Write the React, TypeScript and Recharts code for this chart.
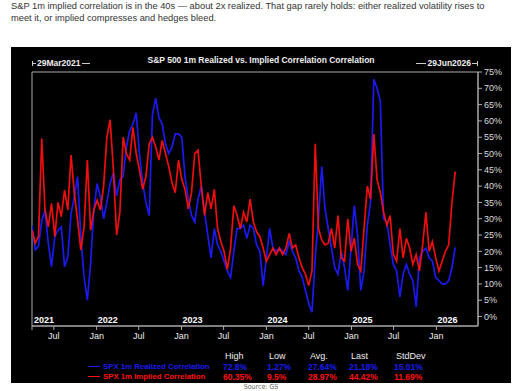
import React from 'react';
import { LineChart, Line, XAxis, YAxis, ReferenceArea } from 'recharts';

// biweekly samples
const dates = [
  '2021-03-29', '2021-04-12', '2021-04-26', '2021-05-10', '2021-05-24', '2021-06-07', '2021-06-21', '2021-07-05', '2021-07-19', '2021-08-02',
  '2021-08-16', '2021-08-30', '2021-09-13', '2021-09-27', '2021-10-11', '2021-10-25', '2021-11-08', '2021-11-22', '2021-12-06', '2021-12-20',
  '2022-01-03', '2022-01-17', '2022-01-31', '2022-02-14', '2022-02-28', '2022-03-14', '2022-03-28', '2022-04-11', '2022-04-25', '2022-05-09',
  '2022-05-23', '2022-06-06', '2022-06-20', '2022-07-04', '2022-07-18', '2022-08-01', '2022-08-15', '2022-08-29', '2022-09-12', '2022-09-26',
  '2022-10-10', '2022-10-24', '2022-11-07', '2022-11-21', '2022-12-05', '2022-12-19',
  '2023-01-02', '2023-01-16', '2023-01-30', '2023-02-13', '2023-02-27', '2023-03-13', '2023-03-27', '2023-04-10', '2023-04-24', '2023-05-08',
  '2023-05-22', '2023-06-05', '2023-06-19', '2023-07-03', '2023-07-17', '2023-07-31', '2023-08-14', '2023-08-28', '2023-09-11', '2023-09-25',
  '2023-10-09', '2023-10-23', '2023-11-06', '2023-11-20', '2023-12-04', '2023-12-18',
  '2024-01-01', '2024-01-15', '2024-01-29', '2024-02-12', '2024-02-26', '2024-03-11', '2024-03-25', '2024-04-08', '2024-04-22', '2024-05-06',
  '2024-05-20', '2024-06-03', '2024-06-17', '2024-07-01', '2024-07-15', '2024-07-29', '2024-08-12', '2024-08-26', '2024-09-09', '2024-09-23',
  '2024-10-07', '2024-10-21', '2024-11-04', '2024-11-18', '2024-12-02', '2024-12-16', '2024-12-30',
  '2025-01-13', '2025-01-27', '2025-02-10', '2025-02-24', '2025-03-10', '2025-03-24', '2025-04-07', '2025-04-21', '2025-05-05', '2025-05-19',
  '2025-06-02', '2025-06-16', '2025-06-30', '2025-07-14', '2025-07-28', '2025-08-11', '2025-08-25', '2025-09-08', '2025-09-22', '2025-10-06',
  '2025-10-20', '2025-11-03', '2025-11-17', '2025-12-01', '2025-12-15', '2025-12-29',
  '2026-01-12', '2026-01-26', '2026-02-09', '2026-02-23', '2026-03-09', '2026-03-23',
];

const realized = [
  28, 20.5, 21.5, 29.5, 32.5, 22.5, 15.3, 24.5, 26.5, 27.5,
  15.3, 18.3, 31.6, 36.7, 42.9, 24.5, 12.2, 5, 16.3, 32.7,
  40.8, 36.7, 30, 35, 41, 44, 37, 42, 43, 52,
  57, 59, 62.5, 50, 41, 35, 31, 62, 67, 61,
  59, 53, 50, 52, 56, 56,
  55, 43, 36, 31, 29, 36, 40, 32, 25, 18,
  27, 22, 20, 17, 14, 12, 20, 27, 27, 28,
  24, 28, 27, 22, 20, 9.5,
  18, 27, 21, 20, 21, 20, 19, 23, 20, 18,
  14, 12, 8, 4, 1.3, 18, 30, 46, 33, 27,
  21, 15, 13, 20, 15, 8, 21,
  34, 25, 8, 14, 28, 35, 72.8, 70, 66, 30,
  29, 22, 16, 14, 6, 13, 16, 13, 11, 3,
  18, 20, 21, 18, 17, 12,
  11, 10, 10, 11, 15, 21.18,
];

const implied = [
  26.5, 22.5, 24.5, 54.6, 32.7, 27.5, 34.7, 24.5, 35, 30.6,
  38.8, 32.7, 49.5, 37.8, 29.6, 20.4, 27.5, 48, 26.5, 32.7,
  35.7, 32.7, 40, 55, 60.35, 45, 25, 32, 55, 50,
  48, 58, 50, 45, 39, 43, 53, 55, 52, 48,
  54, 50, 46, 41, 38, 48,
  42, 39, 33, 38, 50, 51, 40, 31, 38, 33,
  39, 27, 23, 20, 14.5, 21, 34, 31, 27, 32,
  29, 36, 29, 26, 24.5, 21,
  17, 19, 21, 19, 21, 19, 21, 25.5, 21, 22,
  18, 15, 13, 9.5, 14, 53, 27, 23.5, 22, 22.5,
  27, 21, 31, 18, 17, 30, 20,
  24, 16, 14, 27, 40, 36, 56, 42, 38, 32,
  28, 31, 19, 17, 27, 18, 24, 21, 16, 19,
  14, 22, 32, 20, 23, 18,
  14, 17, 20, 22, 35, 44.42,
];

const xTicks = ['2021-03-29', '2021-07-01', '2022-01-01', '2022-07-01', '2023-01-01', '2023-07-01',
  '2024-01-01', '2024-07-01', '2025-01-01', '2025-07-01', '2026-01-01'];
const yTicks = [0, 5, 10, 15, 20, 25, 30, 35, 40, 45, 50, 55, 60, 65, 70, 75];

const seriesNames = ['SPX 1m Realized Correlation', 'SPX 1m Implied Correlation'];
const statHeaders = ['High', 'Low', 'Avg.', 'Last', 'StdDev'];
const realizedStats = ['72.8%', '1.27%', '27.64%', '21.18%', '15.01%'];
const impliedStats = ['60.35%', '9.5%', '28.97%', '44.42%', '11.69%'];

const START = Date.parse('2021-03-29');
const END = Date.parse('2026-06-29');
const BLUE = '#1a1af0';
const RED = '#ff1010';
const FONT = '"Liberation Sans", Arial, sans-serif';

const data = dates.map((d, i) => ({ t: Date.parse(d), realized: realized[i], implied: implied[i] }));

const DateTick = (props: any) => {
  const { x, y, payload } = props;
  const v = payload.value;
  const d = new Date(v);
  if (v === START) {
    return <text x={x + 2} y={y - 9} fill="#fff" fontSize={9} fontWeight="bold" fontFamily={FONT}>{d.getUTCFullYear()}</text>;
  }
  const jan = d.getUTCMonth() === 0;
  return (
    <g>
      <text x={x} y={y + 7} fill="#eee" fontSize={9} textAnchor="middle" fontFamily={FONT}>{jan ? 'Jan' : 'Jul'}</text>
      {jan && <text x={x + 1} y={y - 9} fill="#fff" fontSize={9} fontWeight="bold" fontFamily={FONT}>{d.getUTCFullYear()}</text>}
    </g>
  );
};

const colX = [223, 267, 308, 349, 394];

export default function App() {
  return (
    <div style={{ position: 'absolute', left: 0, top: 0, width: 522, height: 391, background: '#fff', fontFamily: FONT }}>
      <div style={{ position: 'absolute', left: 11, top: 0, width: 505, fontSize: 9.3, lineHeight: '12px', color: '#333' }}>
        S&amp;P 1m implied correlation is in the 40s — about 2x realized. That gap rarely holds: either realized volatility rises to<br />
        meet it, or implied compresses and hedges bleed.
      </div>

      <div style={{ position: 'absolute', left: 11, top: 47, width: 500, height: 336, background: '#000' }}>
        <LineChart width={500} height={336} data={data} margin={{ top: 25, right: 3, left: 21, bottom: 37 }}>
          <XAxis
            dataKey="t"
            type="number"
            domain={[START, END]}
            ticks={xTicks.map(s => Date.parse(s))}
            tick={<DateTick />}
            tickSize={4}
            tickMargin={2}
            tickLine={{ stroke: '#aaa' }}
            axisLine={{ stroke: '#aaa' }}
            height={20}
            interval={0}
            allowDataOverflow
          />
          <YAxis
            orientation="right"
            domain={[-2.9, 75]}
            ticks={yTicks}
            tickFormatter={(v: number) => `${v}%`}
            tick={{ fill: '#ddd', fontSize: 9, fontFamily: FONT }}
            tickSize={4}
            tickMargin={2}
            tickLine={{ stroke: '#aaa' }}
            axisLine={{ stroke: '#aaa' }}
            width={30}
            interval={0}
            allowDataOverflow
          />
          <ReferenceArea x1={START} x2={END} y1={-2.9} y2={75} fill="none" stroke="#aaa" strokeWidth={1} />
          <Line dataKey="realized" stroke={BLUE} strokeWidth={1.7} dot={false} isAnimationActive={false} />
          <Line dataKey="implied" stroke={RED} strokeWidth={1.7} strokeOpacity={0.92} dot={false} isAnimationActive={false} />
        </LineChart>

        <div style={{ position: 'absolute', left: 0, top: 8, width: 500, textAlign: 'center', color: '#eee', fontSize: 8.5, fontWeight: 'bold' }}>
          S&amp;P 500 1m Realized vs. Implied Correlation Correlation
        </div>
        <div style={{ position: 'absolute', left: 21, top: 11, display: 'flex', alignItems: 'center', color: '#eee', fontSize: 8.5, fontWeight: 'bold' }}>
          <span style={{ width: 1, height: 5, background: '#ccc' }} />
          <span style={{ width: 3, height: 1, background: '#ccc', marginRight: 1 }} />
          29Mar2021
          <span style={{ width: 8, height: 1, background: '#ccc', marginLeft: 2 }} />
        </div>
        <div style={{ position: 'absolute', right: 33, top: 11, display: 'flex', alignItems: 'center', color: '#eee', fontSize: 8.5, fontWeight: 'bold' }}>
          <span style={{ width: 10, height: 1, background: '#ccc', marginRight: 2 }} />
          29Jun2026
          <span style={{ width: 5, height: 1, background: '#ccc', marginLeft: 1 }} />
          <span style={{ width: 1, height: 5, background: '#ccc' }} />
        </div>

        {statHeaders.map((h, i) => (
          <div key={h} style={{ position: 'absolute', left: colX[i] - 11 + 2, top: 304, color: '#eee', fontSize: 9 }}>{h}</div>
        ))}
        {[realizedStats, impliedStats].map((row, r) => (
          <React.Fragment key={r}>
            <div style={{ position: 'absolute', left: 77, top: 315 + r * 10, display: 'flex', alignItems: 'center', whiteSpace: 'nowrap', color: r ? RED : BLUE, fontSize: 7.8, fontWeight: 'bold' }}>
              <span style={{ width: 12, height: 1.5, background: r ? RED : BLUE, marginRight: 3 }} />
              {seriesNames[r]}
            </div>
            {row.map((s, i) => (
              <div key={i} style={{ position: 'absolute', left: colX[i] - 11, top: 315 + r * 10, color: r ? RED : BLUE, fontSize: 8.5, fontWeight: 'bold' }}>{s}</div>
            ))}
          </React.Fragment>
        ))}
      </div>

      <div style={{ position: 'absolute', left: 0, top: 383, width: 522, textAlign: 'center', color: '#666', fontSize: 7, fontFamily: '"Liberation Sans Narrow", "DejaVu Sans Condensed", sans-serif' }}>
        Source: GS
      </div>
    </div>
  );
}
